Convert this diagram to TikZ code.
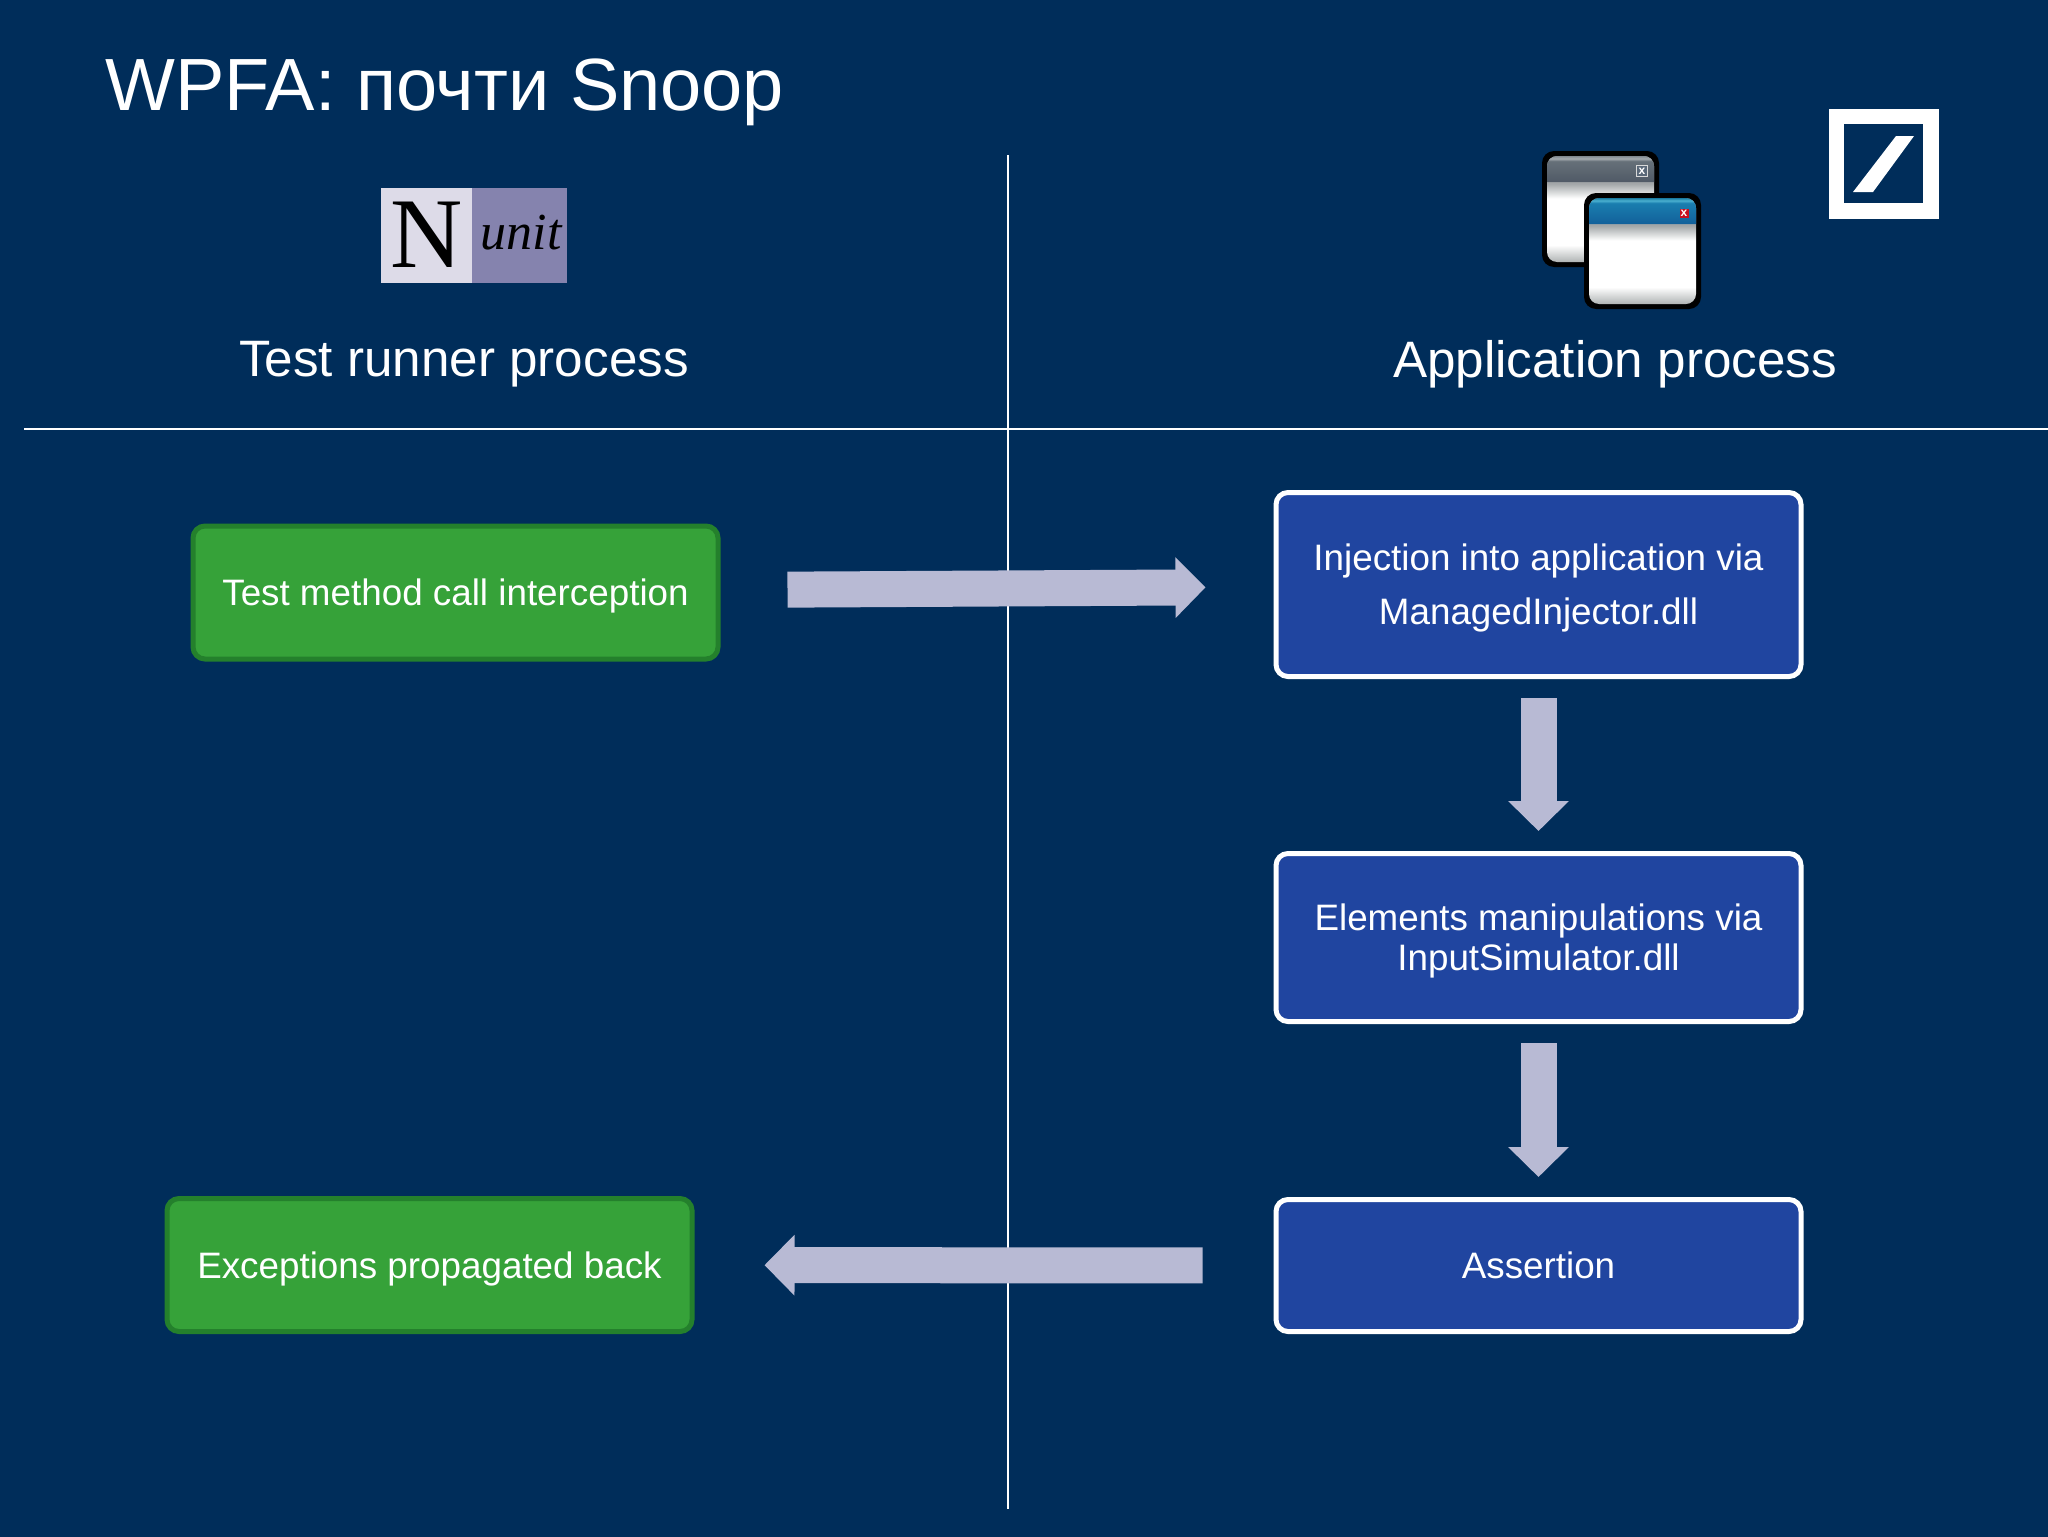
\documentclass[tikz,border=0pt]{standalone}
\usepackage{fontspec}
\setmainfont{Liberation Sans}
\newfontfamily\nunitfont{Liberation Serif}
\usetikzlibrary{positioning,arrows.meta}
\definecolor{bgblue}{HTML}{002D5A}
\definecolor{boxblue}{HTML}{2045A0}
\definecolor{boxgreen}{HTML}{36A239}
\definecolor{edgegreen}{HTML}{24802C}
\definecolor{flowgray}{HTML}{B8BAD4}
\definecolor{nunitleft}{HTML}{DDDBE8}
\definecolor{nunitright}{HTML}{8583AE}
\definecolor{winedge}{HTML}{A2A6A8}
\definecolor{winfoot}{HTML}{B0B4B4}
\definecolor{graylow}{HTML}{505A66}
\definecolor{graymid}{HTML}{667079}
\definecolor{grayhi}{HTML}{A5ABB0}
\definecolor{graytop}{HTML}{808890}
\definecolor{bluelow}{HTML}{12609A}
\definecolor{bluemid}{HTML}{1A7EAF}
\definecolor{bluehi}{HTML}{4AB0D0}
\definecolor{bluetop}{HTML}{1A7A9F}
\definecolor{btngray}{HTML}{5A6878}
\definecolor{btnred}{HTML}{C81020}
\pgfdeclareverticalshading{winbody}{100bp}{color(0bp)=(winfoot);color(25bp)=(winfoot);color(33bp)=(white);color(55bp)=(white);color(62bp)=(winedge);color(100bp)=(winedge)}
\pgfdeclareverticalshading{bargray}{100bp}{color(0bp)=(graylow);color(25bp)=(graylow);color(65bp)=(graymid);color(70bp)=(grayhi);color(75bp)=(graytop);color(100bp)=(graytop)}
\pgfdeclareverticalshading{barblue}{100bp}{color(0bp)=(bluelow);color(25bp)=(bluelow);color(65bp)=(bluemid);color(70bp)=(bluehi);color(75bp)=(bluetop);color(100bp)=(bluetop)}
\begin{document}
\begin{tikzpicture}
  [
      x=0.5pt, y=-0.5pt,
      bluebox/.style={draw=white, fill=boxblue, line width=2.5pt, rounded corners=6pt, minimum width=262.5pt, text=white, align=center, text depth=0pt, font=\fontsize{18.4}{#1}\selectfont},
      greenbox/.style={draw=edgegreen, fill=boxgreen, line width=2.5pt, rounded corners=6pt, minimum width=262.5pt, minimum height=66.5pt, text=white, text depth=0pt, font=\fontsize{18.4}{24}\selectfont},
      flow/.style={draw=flowgray, line width=18pt, -{Triangle[width=29.5pt,length=15pt]}},
      rule/.style={draw=white, line width=0.6pt},
      heading/.style={text=white, anchor=base, font=\fontsize{25.6}{30}\selectfont},
      btngrayst/.style={fill=btngray, draw=white!70!gray, line width=0.3pt, minimum size=5.5pt},
      btnredst/.style={fill=btnred, minimum size=4.5pt},
    ]

    \useasboundingbox (0,0) rectangle (2048,1536);
    \fill [bgblue] (-10,-10) rectangle (2058,1546);

    \node (title) [text=white, anchor=base west, inner sep=0pt, font=\fontsize{37}{46}\selectfont] at (105,111) {WPFA: почти Snoop};

    \coordinate (vtop) at (1008,155);
    \coordinate (vbot) at (1008,1509);
    \coordinate (hleft) at (24,429);
    \coordinate (hright) at (2048,429);
    \draw [rule] (vtop) -- (vbot);
    \draw [rule] (hleft) -- (hright);

    \node (runner) [heading] at (464,376) {Test runner process};
    \node (app) [heading] at (1615,377) {Application process};

    \fill [nunitleft] (381,188) rectangle (472,283);
    \fill [nunitright] (472,188) rectangle (567,283);
    \node (nletter) [anchor=base, inner sep=0pt, font=\fontsize{50}{50}\selectfont\nunitfont] at (427,267) {N};
    \node (unit) [anchor=base, inner sep=0pt, font=\fontsize{26}{26}\selectfont\nunitfont\itshape] at (521,249) {unit};

    \foreach \wx/\wy/\wbar/\wbtn in {1542/151/bargray/btngrayst,1584/193/barblue/btnredst} {
      \begin{scope}[shift={(\wx,\wy)}]
        \fill [black, rounded corners=6pt] (0,0) rectangle (117,116);
        \shade [shading=winbody, rounded corners=5pt] (5,5) rectangle (112,111);
        \shade [shading=\wbar] (5,31) [rounded corners=5pt] -- (5,5) -- (112,5) [sharp corners] -- (112,31) -- cycle;
        \node (btn) [\wbtn, text=white, inner sep=0pt, font=\fontsize{6}{6}\selectfont\bfseries] at (100,20) {x};
      \end{scope}
    }

    \fill [white] (1829,109) rectangle (1939,219);
    \fill [bgblue] (1844,124) rectangle (1923,203);
    \fill [white] (1896,136) -- (1914,136) -- (1873,192) -- (1853,192) -- cycle;

    \node (test) [greenbox] at (455.5,592.5) {Test method call interception};
    \node (back) [greenbox] at (429.5,1265) {Exceptions propagated back};
    \node (inject) [bluebox=27, minimum height=92pt] at (1538.5,584.5) {Injection into application via\\ManagedInjector.dll};
    \node (elements) [bluebox=20, minimum height=84pt, below=86pt of inject] {Elements manipulations via\\InputSimulator.dll};
    \node (assertion) [bluebox=24, minimum height=66pt, below=86.5pt of elements] {Assertion};

    \foreach \i/\j in {inject/elements,elements/assertion}
      \draw [flow, shorten <=9.5pt, shorten >=10pt] (\i) -- (\j);
    \draw [flow, shorten <=33.5pt, shorten >=34pt] ([yshift=1.25pt]test.east) -- ([yshift=-1.25pt]inject.west);
    \draw [flow, shorten <=35.5pt, shorten >=35pt] (assertion) -- (back);
  \end{tikzpicture}
\end{document}
